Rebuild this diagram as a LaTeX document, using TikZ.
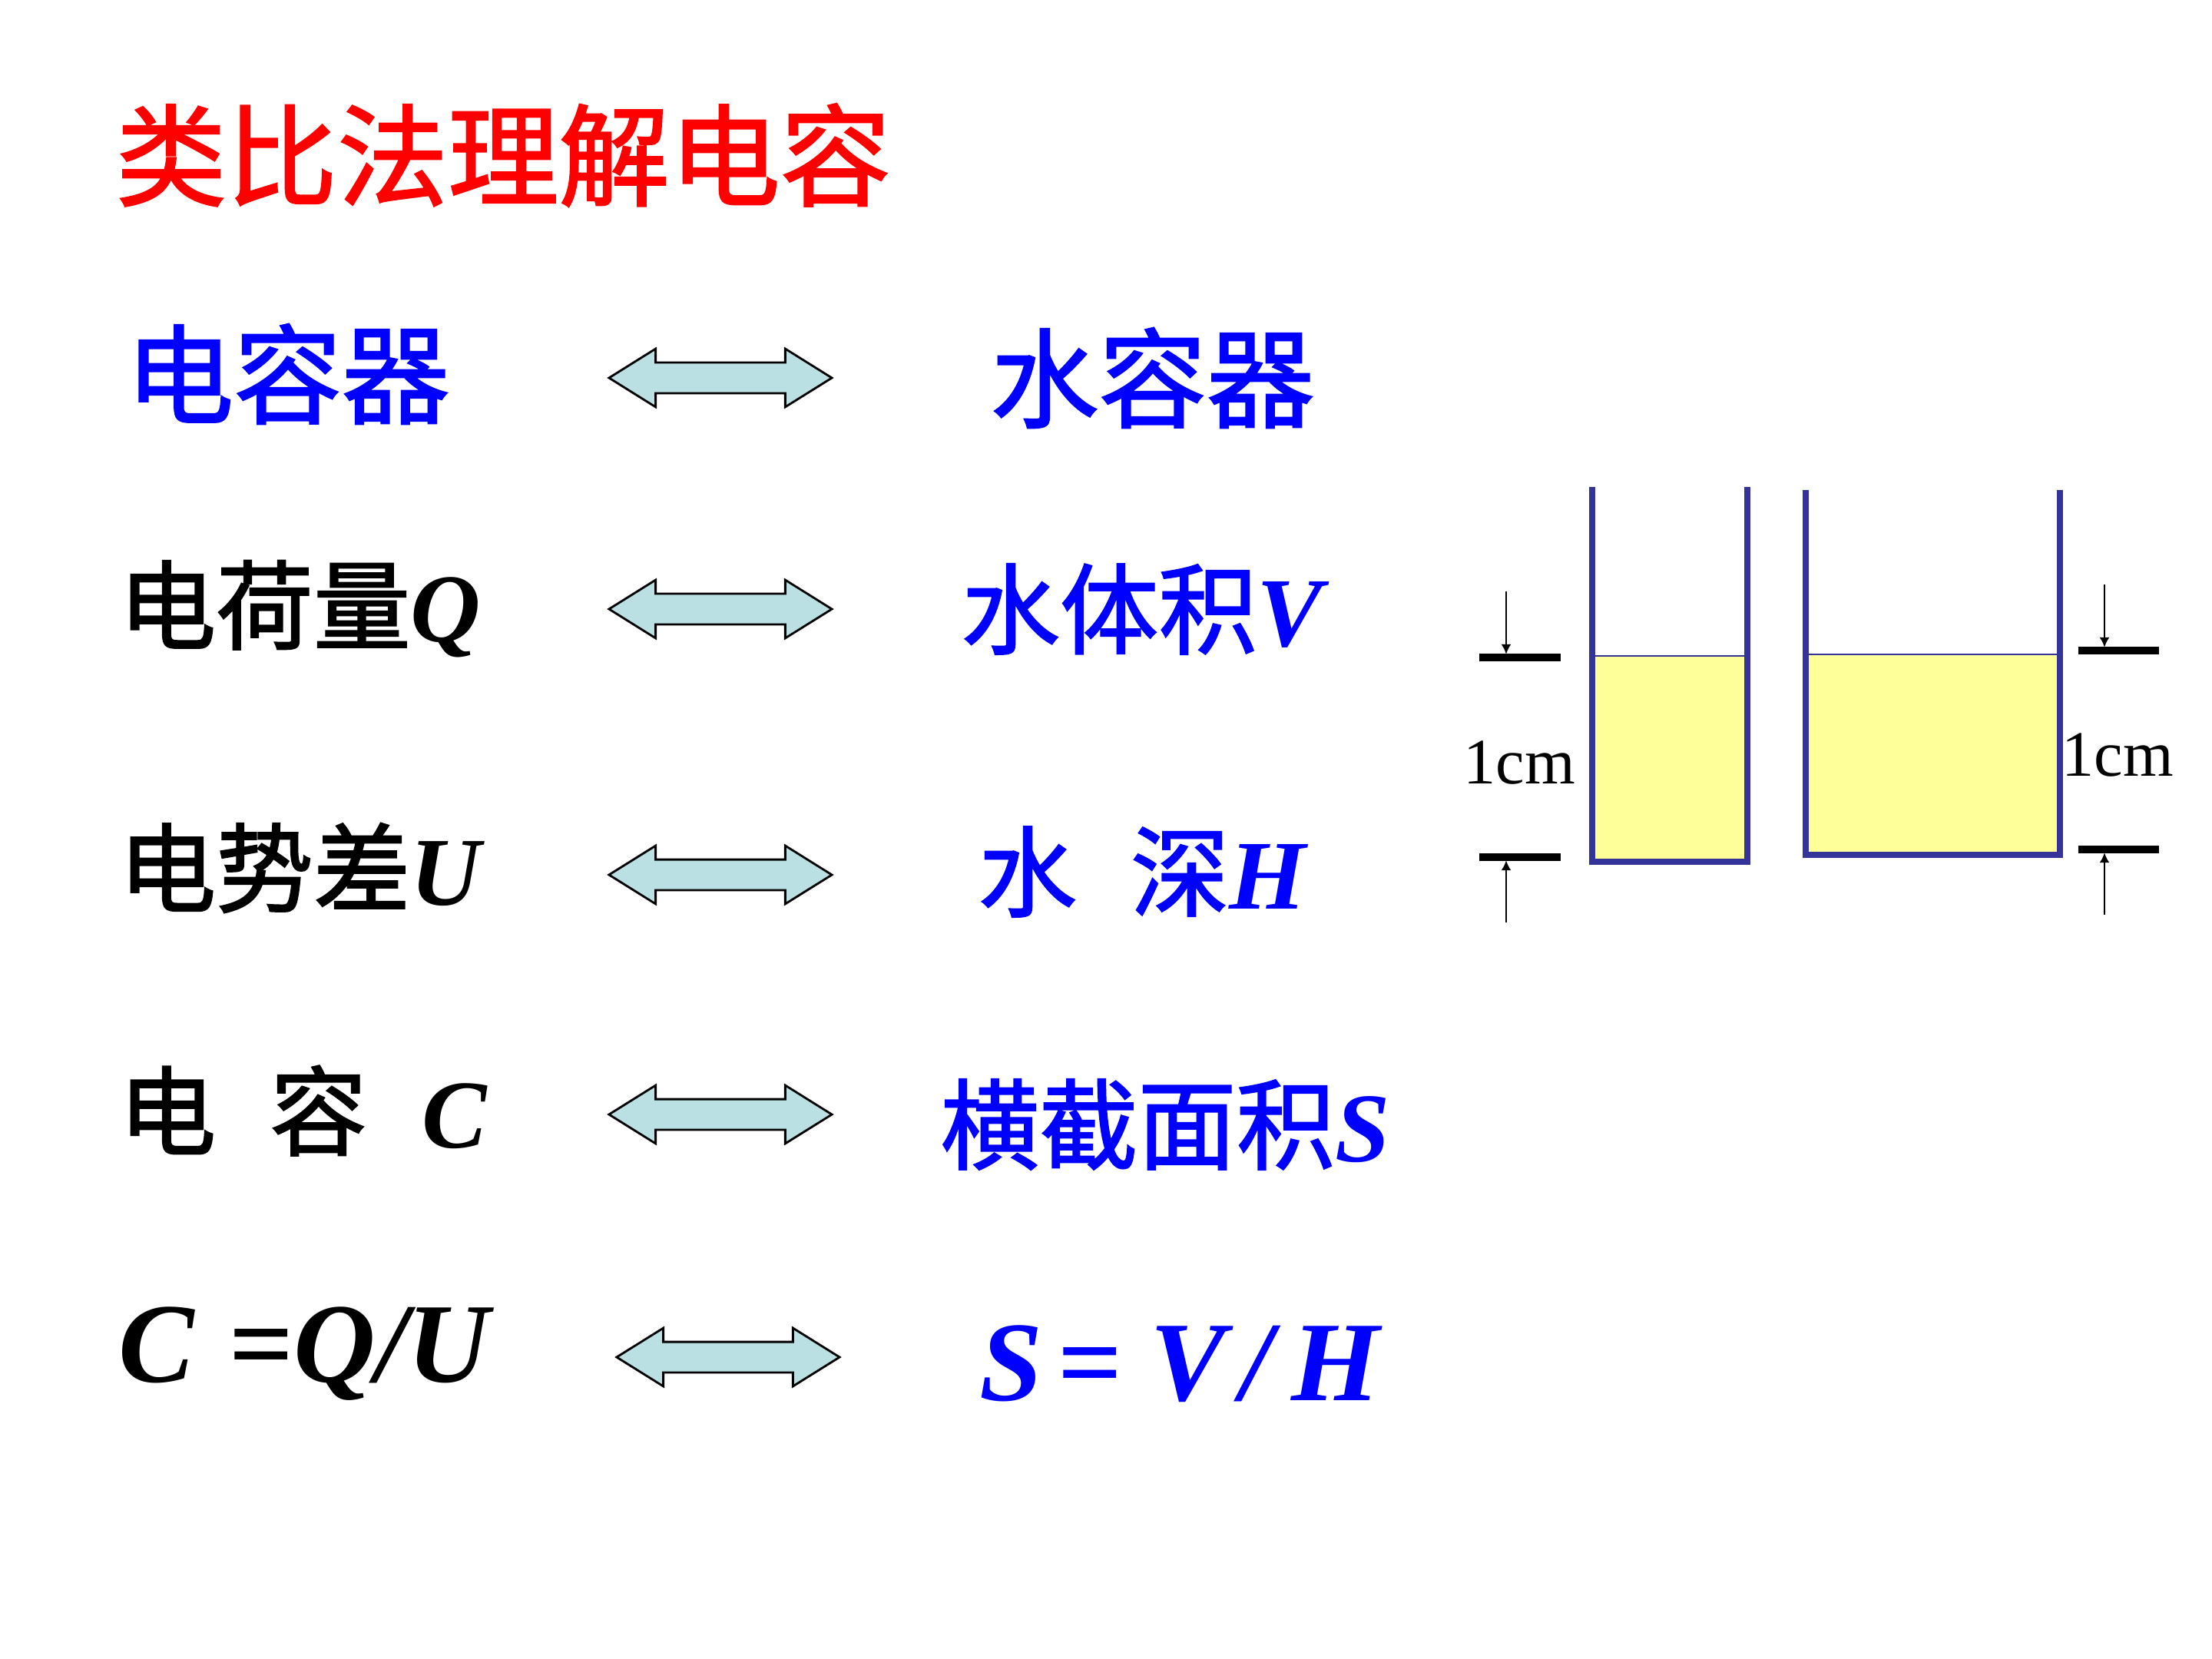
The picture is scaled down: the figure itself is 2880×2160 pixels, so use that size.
\documentclass[tikz,border=0pt]{standalone}
\usepackage{fontspec}
\setmainfont{Liberation Serif}
\newfontfamily\cjk[FakeBold=1.6]{Noto Sans CJK SC}
\usetikzlibrary{arrows.meta,shapes.arrows}

\definecolor{wallblue}{RGB}{51,51,153}
\definecolor{waterfill}{RGB}{255,255,153}
\definecolor{arrowfill}{RGB}{187,224,227}

\newcommand{\lett}[1]{{\rmfamily\bfseries\itshape #1}}

\begin{document}
\begin{tikzpicture}[
  x=0.01cm, y=-0.01cm, >=Latex,
  every node/.style={inner sep=0pt, anchor=west},
  title/.style={font=\cjk\fontsize{41}{41}\selectfont, text=red},
  head/.style={font=\cjk\fontsize{40}{40}\selectfont, text=blue},
  elec/.style={font=\cjk\fontsize{36}{36}\selectfont},
  water/.style={font=\cjk\fontsize{36.5}{36.5}\selectfont, text=blue},
  formula/.style={font=\rmfamily\bfseries\fontsize{42}{42}\selectfont},
  swap/.style={double arrow, draw, line width=0.8pt, fill=arrowfill,
               anchor=center, minimum height=2.9cm, inner xsep=0pt,
               inner ysep=0.185cm, double arrow head extend=0.18cm,
               double arrow tip angle=64},
  wall/.style={wallblue, line width=2.1pt},
  bar/.style={line width=2.8pt},
  dim/.style={-{Latex[length=1.3mm,width=1.3mm]}, line width=0.6pt},
  cmlabel/.style={anchor=center, font=\rmfamily\fontsize{24}{24}\selectfont}
]
  \fill[white] (0,0) rectangle (2880,2160);

  % title and the two columns
  \node[title] (ttl) at (150,202) {类比法理解电容};

  \node[head] (elecCap) at (163,487) {电容器};
  \node[head] (waterCap) at (1289,492) {水容器};
  \node[elec] (charge) at (154,793) {电荷量\lett{Q}};
  \node[water] (volume) at (1251,793) {水体积\lett{V}};
  \node[elec] (potential) at (154,1130) {电势差\lett{U}};
  \node[water] (depth) at (1273,1135) {水\hspace{0.7cm}深\lett{H}};
  \node[elec] (capacity) at (154,1446) {电\hspace{0.7cm}容\hspace{0.72cm}\lett{C}};
  \node[water] (area) at (1224,1464) {横截面积\lett{S}};
  \node[formula] (elecEq) at (154,1763)
    {\lett{C}\hspace{0.45cm}=\lett{Q}\lett{/}\lett{U}};
  \node[formula, text=blue] (waterEq) at (1275,1776)
    {\lett{S}\hspace{0.2cm}=\hspace{0.35cm}\lett{V}\hspace{0.2cm}\lett{/}\hspace{0.25cm}\lett{H}};

  % double arrows
  \node[swap] (swapA) at (938,492) {};
  \node[swap] (swapB) at (938,793) {};
  \node[swap] (swapC) at (938,1139) {};
  \node[swap] (swapD) at (938,1451) {};
  \node[swap] (swapE) at (948,1767) {};

  % narrow container
  \fill[waterfill, draw=wallblue, thin] (2073,854) rectangle (2275,1122);
  \draw[wall] (2073,634) -- (2073,1122) -- (2275,1122) -- (2275,634);
  % wide container
  \fill[waterfill, draw=wallblue, thin] (2351,852) rectangle (2682,1113);
  \draw[wall] (2351,638) -- (2351,1113) -- (2682,1113) -- (2682,638);

  % left dimension
  \coordinate (lTop) at (1961,856);
  \coordinate (lBot) at (1961,1116);
  \draw[bar] (1926,856) -- (2032,856);
  \draw[bar] (1926,1116) -- (2032,1116);
  \draw[dim] (1961,770) -- ([yshift=1.2pt]lTop);
  \draw[dim] (1961,1201) -- ([yshift=-1.2pt]lBot);
  \node[cmlabel] (lblL) at (1978,993) {1cm};

  % right dimension
  \coordinate (rTop) at (2740,847);
  \coordinate (rBot) at (2740,1106);
  \draw[bar] (2706,847) -- (2811,847);
  \draw[bar] (2706,1106) -- (2811,1106);
  \draw[dim] (2740,761) -- ([yshift=1.2pt]rTop);
  \draw[dim] (2740,1191) -- ([yshift=-1.2pt]rBot);
  \node[cmlabel] (lblR) at (2757,983) {1cm};
\end{tikzpicture}
\end{document}
